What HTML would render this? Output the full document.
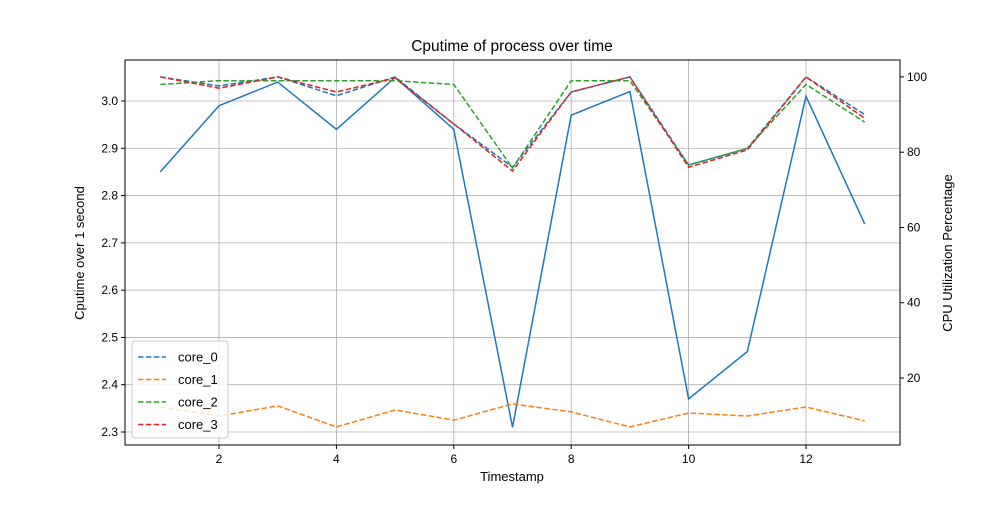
<!DOCTYPE html>
<html><head><meta charset="utf-8"><style>
body{margin:0;background:#fff}
svg{font-family:"Liberation Sans","DejaVu Sans",sans-serif}
</style></head><body>
<svg id="chart" width="1000" height="500" xmlns="http://www.w3.org/2000/svg"></svg>
<script>
const timestamps=[1,2,3,4,5,6,7,8,9,10,11,12,13];
const cputime=[2.85,2.99,3.04,2.94,3.05,2.94,2.31,2.97,3.02,2.37,2.47,3.01,2.74];
const core0=[100,97.6,100,95,100,87.5,76,96,100,76.6,81,100,90];
const core1=[12.3,9.9,12.6,7,11.5,8.8,13.1,11,7,10.7,9.9,12.3,8.6];
const core2=[98,99,99,99,99,98,75.8,99,99,76.6,81,98,88];
const core3=[100,97,100,96,99.7,87.5,75,96,100,76,80.6,100,89];
const xTicks=[2,4,6,8,10,12];
const yLeftTicks=[2.3,2.4,2.5,2.6,2.7,2.8,2.9,3.0];
const yRightTicks=[20,40,60,80,100];
const seriesNames=["core_0","core_1","core_2","core_3"];
const colors=["#1f77b4","#ff7f0e","#2ca02c","#d62728"];

const L=125,R=900,T=60,B=445;
const X=v=>160.3+(v-1)*58.7;
const YL=v=>B-(v-2.2725)/(3.0867-2.2725)*(B-T);
const YR=v=>B-(v-2.2)/(104.5-2.2)*(B-T);
const svg=document.getElementById('chart');
const NS='http://www.w3.org/2000/svg';
function mk(tag,attrs,parent){const e=document.createElementNS(NS,tag);for(const k in attrs)e.setAttribute(k,attrs[k]);(parent||svg).appendChild(e);return e;}

xTicks.forEach(t=>{const l=mk('line',{x1:X(t),x2:X(t),y1:T,y2:B,stroke:'#b0b0b0','stroke-width':0.8});

});
yLeftTicks.forEach(t=>{const l=mk('line',{x1:L,x2:R,y1:YL(t),y2:YL(t),stroke:'#b0b0b0','stroke-width':0.8});

});

function poly(vals,yf,color,dash,name){
 const p=mk('polyline',{points:vals.map((v,i)=>X(timestamps[i])+','+yf(v)).join(' '),fill:'none',stroke:color,'stroke-width':1.5});
 if(dash)p.setAttribute('stroke-dasharray','5.5,2.4');
 
 
}
poly(cputime,YL,'#1f77b4',false,'cputime-line');
[core0,core1,core2,core3].forEach((s,i)=>poly(s,YR,colors[i],true,seriesNames[i].replace('_','-')+'-line'));

const f=mk('rect',{x:L,y:T,width:R-L,height:B-T,fill:'none',stroke:'#000','stroke-width':1});



function txt(x,y,s,anchor,size,name,rot){
 const t=mk('text',{x:x,y:y,'text-anchor':anchor,'font-size':size,fill:'#000'});
 if(rot)t.setAttribute('transform','rotate(-90 '+x+' '+y+')');
 t.textContent=s;
 
 
 return t;
}
xTicks.forEach(t=>{mk('line',{x1:X(t),x2:X(t),y1:B,y2:B+4,stroke:'#000'});txt(X(t),B+18,String(t),'middle',12,'x-tick-label');});
yLeftTicks.forEach(t=>{mk('line',{x1:L-4,x2:L,y1:YL(t),y2:YL(t),stroke:'#000'});txt(L-7,YL(t)+4,t.toFixed(1),'end',12,'y-left-tick-label');});
yRightTicks.forEach(t=>{mk('line',{x1:R,x2:R+4,y1:YR(t),y2:YR(t),stroke:'#000'});txt(R+7,YR(t)+4,String(t),'start',12,'y-right-tick-label');});

txt(512,51,'Cputime of process over time','middle',15.5,'chart-title');
txt(512,481,'Timestamp','middle',13,'x-axis-title');
txt(84,253,'Cputime over 1 second','middle',13,'y-left-axis-title',true);
txt(952,253,'CPU Utilization Percentage','middle',13,'y-right-axis-title',true);

const lg=mk('rect',{x:132,y:341,width:96,height:97,rx:3,fill:'#fff','fill-opacity':0.8,stroke:'#ccc'});


seriesNames.forEach((n,i)=>{
 const y=357+i*22.5;
 const l=mk('line',{x1:138,x2:166,y1:y,y2:y,stroke:colors[i],'stroke-width':1.5,'stroke-dasharray':'5.5,2.4'});
 
 
 txt(178,y+4.5,n,'start',13,'legend-entry');
});
</script>
</body></html>
